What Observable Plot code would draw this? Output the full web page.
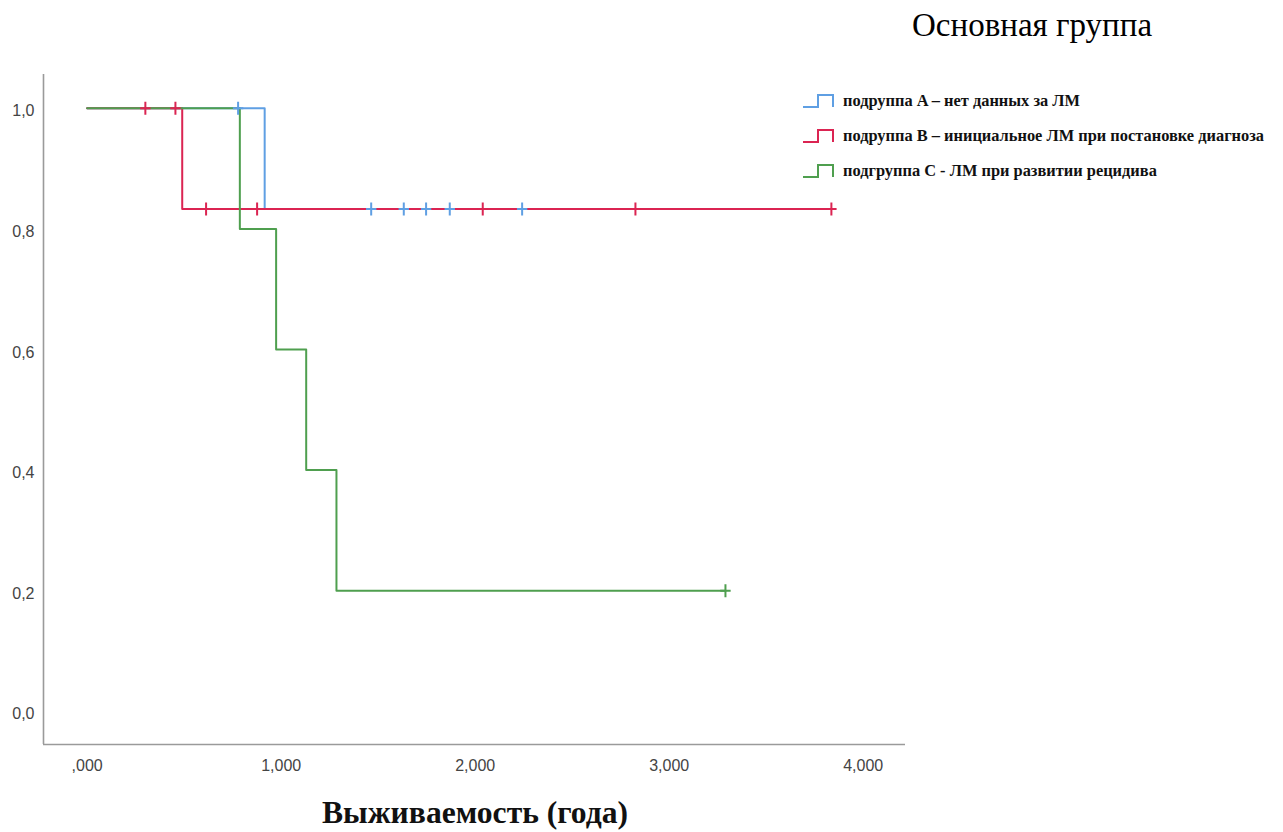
<!DOCTYPE html>
<html>
<head>
<meta charset="utf-8">
<script src="https://cdn.jsdelivr.net/npm/d3@7"></script>
<script src="https://cdn.jsdelivr.net/npm/@observablehq/plot@0.6"></script>
<style>
  html, body { margin: 0; padding: 0; background: #fff; }
  #wrap { position: relative; width: 1283px; height: 832px; overflow: hidden; }
  #chart { position: absolute; left: 0; top: 0; }
  #title { position: absolute; left: 912px; top: 7px; font-family: "Liberation Serif", "Times New Roman", serif; font-size: 33px; color: #000; white-space: nowrap; }
  #legend { position: absolute; left: 802px; top: 83px; font-family: "Liberation Serif", "Times New Roman", serif; font-weight: bold; font-size: 16.4px; color: #111; }
  .row { display: flex; align-items: center; height: 35px; white-space: nowrap; }
  .row svg { margin-right: 7px; }
  #xlabel { position: absolute; left: 0; width: 950px; text-align: center; top: 795px; font-family: "Liberation Serif", "Times New Roman", serif; font-weight: bold; font-size: 31.6px; color: #111; white-space: nowrap; }
</style>
</head>
<body>
<div id="wrap">
  <div id="chart"></div>
  <div id="title"></div>
  <div id="legend"></div>
  <div id="xlabel"></div>
</div>
<script>
// ---- data ----
const titleText = "Основная группа";
const xAxisLabel = "Выживаемость (года)";
const groups = [
  "подруппа A – нет данных за ЛМ",
  "подруппа B – инициальное ЛМ при постановке диагноза",
  "подгруппа C - ЛМ при развитии рецидива"
];
const groupColors = ["#5f9fe3", "#db2452", "#4f9f4f"];

const timesA = [0, 0.915, 2.242];
const survA  = [1, 0.833, 0.833];
const timesB = [0, 0.490, 3.836];
const survB  = [1, 0.833, 0.833];
const timesC = [0, 0.787, 0.974, 1.129, 1.285, 3.290];
const survC  = [1, 0.8, 0.6, 0.4, 0.2, 0.2];

const censorTimesA = [0.778, 1.464, 1.632, 1.747, 1.869, 2.242];
const censorSurvA  = [1, 0.833, 0.833, 0.833, 0.833, 0.833];
const censorTimesB = [0.300, 0.455, 0.613, 0.876, 2.039, 2.826, 3.836];
const censorSurvB  = [1, 1, 0.833, 0.833, 0.833, 0.833, 0.833];
const censorTimesC = [3.290];
const censorSurvC  = [0.2];

const xTicks = [0, 1, 2, 3, 4];
const yTicks = [0, 0.2, 0.4, 0.6, 0.8, 1.0];
const xDomain = [-0.225, 4.218];
const yDomain = [-0.055, 1.056];

// ---- build tables ----
const curveSets = [[timesA, survA], [timesB, survB], [timesC, survC]];
const censorSets = [[censorTimesA, censorSurvA], [censorTimesB, censorSurvB], [censorTimesC, censorSurvC]];
const curves = curveSets.flatMap(([t, s], i) => t.map((v, j) => ({group: groups[i], time: v, surv: s[j]})));
const censors = censorSets.flatMap(([t, s], i) => t.map((v, j) => ({group: groups[i], time: v, surv: s[j]})));

const xFmt = d => d === 0 ? ",000" : d.toFixed(3).replace(".", ",");
const yFmt = d => d.toFixed(1).replace(".", ",");

const plusSymbol = {
  draw(context, size) {
    const r = Math.sqrt(size / Math.PI);
    context.moveTo(0, -r); context.lineTo(0, r);
    context.moveTo(-r * 0.8, 0); context.lineTo(r * 0.8, 0);
  }
};

const chart = Plot.plot({
  width: 920,
  height: 790,
  marginLeft: 43,
  marginRight: 15,
  marginTop: 74,
  marginBottom: 46,
  x: {domain: xDomain},
  y: {domain: yDomain},
  color: {domain: groups, range: groupColors},
  style: {fontFamily: "'Liberation Sans', Arial, sans-serif", fontSize: "16px", color: "#444", background: "white"},
  marks: [
    Plot.ruleX([xDomain[0]], {stroke: "#9a9a9a", strokeWidth: 1.6}),
    Plot.ruleY([yDomain[0]], {stroke: "#9a9a9a", strokeWidth: 1.6}),
    Plot.axisX({ticks: xTicks, tickSize: 0, tickPadding: 15, tickFormat: xFmt, label: null, fontSize: 16}),
    Plot.axisY({ticks: yTicks, tickSize: 0, tickPadding: 9, tickFormat: yFmt, label: null, dy: 3, fontSize: 16}),
    Plot.line(curves, {x: "time", y: "surv", z: "group", stroke: "group", curve: "step-after", strokeWidth: 2}),
    Plot.dot(censors, {x: "time", y: "surv", stroke: "group", symbol: plusSymbol, r: 6.5, strokeWidth: 2, fill: "none"})
  ]
});
document.getElementById("chart").appendChild(chart);

document.getElementById("title").textContent = titleText;
document.getElementById("xlabel").textContent = xAxisLabel;

const legend = document.getElementById("legend");
groups.forEach((g, i) => {
  const row = document.createElement("div");
  row.className = "row";
  const ns = "http://www.w3.org/2000/svg";
  const sw = document.createElementNS(ns, "svg");
  sw.setAttribute("width", 34); sw.setAttribute("height", 16);
  const p = document.createElementNS(ns, "path");
  p.setAttribute("d", "M1,14 H16 V2 H31 V14");
  p.setAttribute("fill", "none");
  p.setAttribute("stroke", groupColors[i]);
  p.setAttribute("stroke-width", 2);
  sw.appendChild(p);
  row.appendChild(sw);
  const span = document.createElement("span");
  span.textContent = g;
  row.appendChild(span);
  legend.appendChild(row);
});
</script>
</body>
</html>
